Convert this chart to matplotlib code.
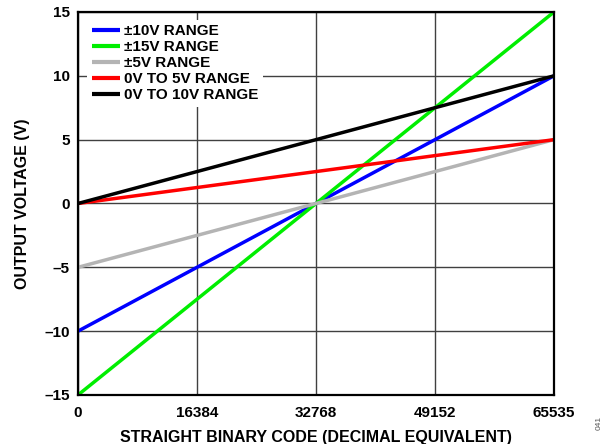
import matplotlib
matplotlib.use("Agg")
import matplotlib.pyplot as plt

plt.rcParams['font.family'] = ['Liberation Sans', 'DejaVu Sans']
plt.rcParams['font.weight'] = 'bold'

codes = [0, 65535]
series_names = ["±10V RANGE", "±15V RANGE", "±5V RANGE", "0V TO 5V RANGE", "0V TO 10V RANGE"]
series_values = [[-10, 10], [-15, 15], [-5, 5], [0, 5], [0, 10]]
series_colors = ["#0000ff", "#00ee00", "#b4b4b4", "#ff0000", "#000000"]
x_ticks = [0, 16384, 32768, 49152, 65535]
y_ticks = [-15, -10, -5, 0, 5, 10, 15]

fig = plt.figure(figsize=(6.05, 4.44), dpi=100)
ax = fig.add_axes([0.1289, 0.1104, 0.9157 - 0.1289, 0.973 - 0.1104])

for name, vals, c in zip(series_names, series_values, series_colors):
    ax.plot(codes, vals, color=c, lw=2.5, label=name, solid_capstyle='butt')

ax.set_xlim(0, 65535)
ax.set_ylim(-15, 15)
ax.set_xticks(x_ticks)
ax.set_yticks(y_ticks)
ax.set_xticklabels([str(v) for v in x_ticks])
ax.set_yticklabels([str(v).replace('-', '\u2013') for v in y_ticks])
ax.grid(True, color='#404040', lw=1.0)
ax.set_axisbelow(True)
ax.tick_params(length=0, labelsize=11)
ax.tick_params(axis='x', pad=8)
ax.tick_params(axis='y', pad=6)
for lab in ax.get_xticklabels() + ax.get_yticklabels():
    lab.set_fontweight('bold')
for s in ax.spines.values():
    s.set_linewidth(1.6)
    s.set_color('black')

ax.set_xlabel("STRAIGHT BINARY CODE (DECIMAL EQUIVALENT)", fontsize=11.5, fontweight='bold', labelpad=7)
ax.set_ylabel("OUTPUT VOLTAGE (V)", fontsize=11.5, fontweight='bold', labelpad=10)

leg = ax.legend(loc='upper left', frameon=True, fontsize=11, handlelength=1.85,
                handletextpad=0.3, labelspacing=0.13, borderpad=0.3,
                borderaxespad=0, bbox_to_anchor=(0.019, 0.98))
leg.get_frame().set_edgecolor('none')
leg.get_frame().set_facecolor('white')
leg.get_frame().set_alpha(1)
leg.get_frame().set_boxstyle('square', pad=0)
for t in leg.get_texts():
    t.set_fontweight('bold')
for h in leg.get_lines():
    h.set_linewidth(3)

fig.text(0.99, 0.047, "041", rotation=90, fontsize=6, color='#555555',
         ha='center', va='center', fontweight='normal')

fig.savefig("out.png", dpi=100)
